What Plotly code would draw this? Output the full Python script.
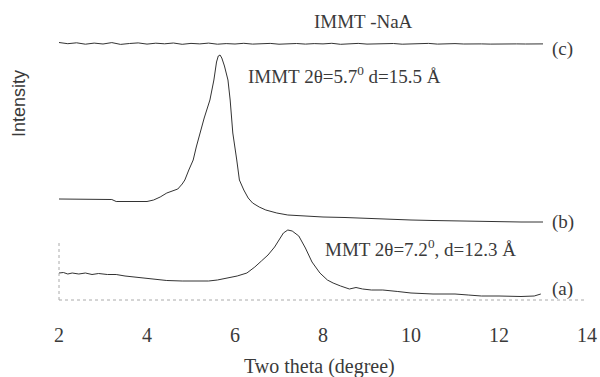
import plotly.graph_objects as go

# ---- data (two theta in degrees, intensity in arbitrary offset units) ----
c_two_theta = [round(2.0 + 0.2 * i, 1) for i in range(56)]
c_intensity = [257.5, 256.3, 257.2, 255.8, 256.9, 256.0, 257.4, 255.6, 256.5, 257.1,
               255.9, 256.8, 256.2, 257.0, 255.7, 256.6, 256.1, 256.9, 255.8, 256.4,
               256.0, 256.7, 255.9, 256.3, 256.6, 255.8, 256.2, 256.5, 255.9, 256.4,
               256.1, 256.7, 255.7, 256.3, 256.6, 255.9, 256.2, 256.0, 256.5, 255.8,
               256.3, 256.1, 256.6, 255.9, 256.2, 256.4, 256.0, 256.3, 256.1, 255.9,
               256.2, 256.0, 256.1, 256.0, 255.9, 256.1]

b_two_theta = [2.0, 2.5, 3.0, 3.2, 3.3, 3.6, 4.0, 4.15, 4.3, 4.45, 4.6, 4.7, 4.8, 4.86,
               4.95, 5.05, 5.12, 5.2, 5.3, 5.43, 5.52, 5.58, 5.62, 5.66, 5.7, 5.76, 5.84,
               5.89, 5.95, 6.04, 6.1, 6.2, 6.3, 6.4, 6.55, 6.7, 6.95, 7.2, 7.5, 8.0, 8.5,
               9.0, 9.5, 10.0, 10.5, 11.0, 11.5, 12.0, 12.5, 13.0]
b_intensity = [101, 101, 101, 100.5, 98.5, 98.3, 98.5, 100, 103, 107, 109, 111, 116, 120,
               130, 140, 153, 167, 182, 200, 220, 238, 244, 245, 242, 234, 220,
               200, 167, 140, 120, 110, 102, 97, 93, 90, 87, 85, 84, 83, 82.5,
               81.5, 80.5, 80, 79.5, 79, 79, 78.5, 78, 78]

a_two_theta = [2.0, 2.1, 2.2, 2.3, 2.45, 2.6, 2.75, 2.9, 3.1, 3.3, 3.5, 3.8, 4.1, 4.45,
               4.8, 5.1, 5.4, 5.6, 5.8, 6.05, 6.27, 6.45, 6.6, 6.75, 6.9, 7.0, 7.1, 7.2,
               7.3, 7.45, 7.6, 7.75, 7.93, 8.1, 8.23, 8.4, 8.6, 8.75, 8.9, 9.1, 9.36, 9.7,
               10.0, 10.5, 11.0, 11.3, 11.6, 12.0, 12.5, 12.8, 12.95]
a_intensity = [27, 27.5, 26, 27, 26, 27, 25.5, 26.5, 25.5, 25.5, 24, 22.5, 21, 19.5,
               19, 19, 19, 20, 22, 24, 27, 33, 39, 45, 53, 60, 67, 70,
               69, 64, 52, 38, 27, 20, 17, 14, 11, 12.5, 11, 10, 10, 8.5,
               7, 6, 6, 5, 4, 4, 3.5, 4, 6]

x_ticks = [2, 4, 6, 8, 10, 12, 14]

LINE = "#333333"
TXT = "#3a3a3a"
SERIF = "Liberation Serif, Times New Roman, serif"

fig = go.Figure()
for xs, ys in [(c_two_theta, c_intensity), (b_two_theta, b_intensity), (a_two_theta, a_intensity)]:
    fig.add_trace(go.Scatter(x=xs, y=ys, mode="lines",
                             line=dict(color=LINE, width=1), showlegend=False,
                             hoverinfo="skip"))

annots = [
    dict(x=13.15, y=251, text="(c)", xanchor="left"),
    dict(x=13.15, y=78, text="(b)", xanchor="left"),
    dict(x=13.15, y=11, text="(a)", xanchor="left"),
    dict(x=8.93, y=279, text="IMMT -NaA", xanchor="center"),
    dict(x=6.25, y=225, text="IMMT 2θ=5.7<sup>0</sup> d=15.5 Å", xanchor="left"),
    dict(x=8.0, y=52, text="MMT 2θ=7.2<sup>0</sup>, d=12.3 Å", xanchor="left"),
]
for a in annots:
    fig.add_annotation(x=a["x"], y=a["y"], text=a["text"], xanchor=a["xanchor"],
                       yanchor="middle", showarrow=False,
                       font=dict(family=SERIF, size=19, color=TXT))

# axis titles placed as in the reference
fig.add_annotation(xref="paper", yref="paper", x=-0.076, y=0.679, text="Intensity",
                   textangle=-90, showarrow=False, xanchor="center", yanchor="middle",
                   font=dict(family="Liberation Sans, Arial, sans-serif", size=18, color=TXT))
fig.add_annotation(xref="paper", yref="paper", x=0.493, y=-0.228, text="Two theta (degree)",
                   showarrow=False, xanchor="center", yanchor="middle",
                   font=dict(family=SERIF, size=20, color=TXT))

# faint axis lines (scanned look)
fig.add_shape(type="line", xref="paper", yref="paper", x0=0, x1=1, y0=0, y1=0,
              line=dict(color="#aaaaaa", width=1, dash="dot"))
fig.add_shape(type="line", xref="paper", yref="y", x0=0, x1=0, y0=0, y1=57,
              line=dict(color="#aaaaaa", width=1, dash="dot"))

fig.update_layout(
    width=600, height=377,
    margin=dict(l=59, r=13, t=10, b=77, autoexpand=False),
    paper_bgcolor="white", plot_bgcolor="white",
    xaxis=dict(range=[2, 14], tickvals=x_ticks, ticktext=[str(t) for t in x_ticks],
               showgrid=False, zeroline=False, showline=False, ticks="",
               automargin=False,
               tickfont=dict(family=SERIF, size=20, color=TXT),
               ticklabelstandoff=21),
    yaxis=dict(range=[0, 290], showgrid=False, zeroline=False, showline=False,
               showticklabels=False, ticks="", automargin=False),
)

fig.write_html("out.html", config={"displayModeBar": False, "staticPlot": True},
               post_script="document.body.style.margin='0px';document.body.style.overflow='hidden';")
